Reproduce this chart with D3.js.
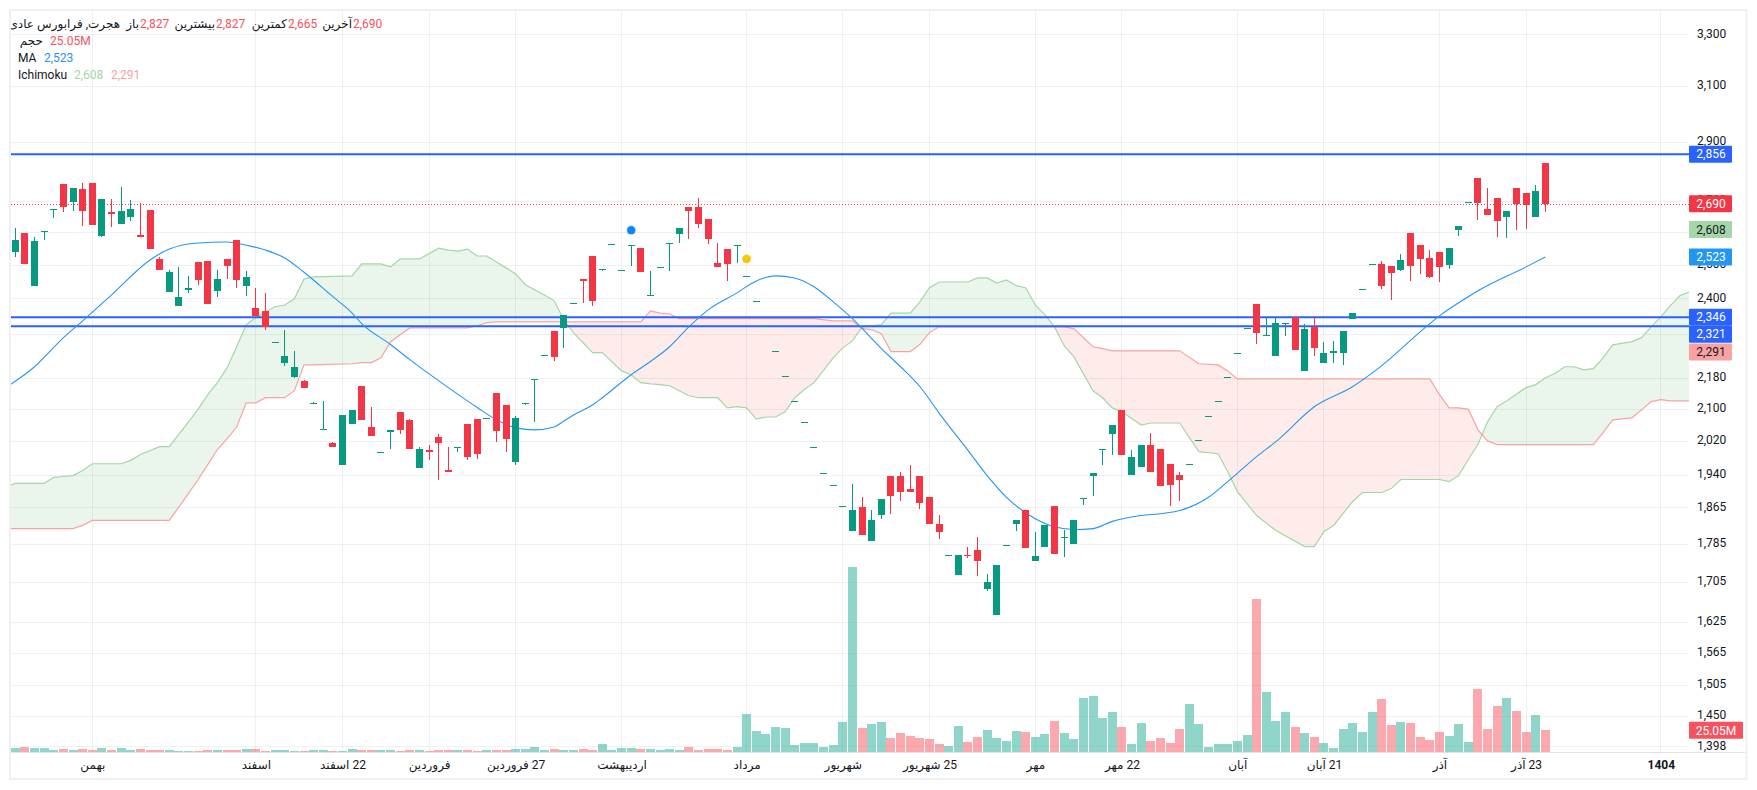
<!DOCTYPE html>
<html lang="fa">
<head>
<meta charset="utf-8">
<title>هجرت</title>
<script src="https://cdn.jsdelivr.net/npm/d3@7/dist/d3.min.js"></script>
<style>
html,body{margin:0;padding:0;background:#fff;overflow:hidden}
svg{display:block}
text{font-family:Roboto,"DejaVu Sans",sans-serif;font-size:12px;fill:#131722}
</style>
</head>
<body>
<svg id="c" width="1757" height="790"></svg>
<script>
const opens=[2538,2597,2437,2603,2673,2755,2696,2738,2759,2587,2664,2625,2648,2590,2670,2517,2419,2379,2425,2508,2511,2422,2517,2575,2437,2373,2364,2278,2221,2184,2173,2116,2050,2017,1964,2063,2160,2055,1993,2043,2093,2073,1957,2000,2031,1952,2003,2063,2075,2078,2140,2111,1971,2116,2178,2242,2308,2316,2386,2457,2526,2486,2562,2483,2559,2550,2410,2492,2565,2594,2680,2680,2641,2505,2547,2559,2465,2392,2322,2252,2186,2121,2067,2006,1944,1917,1868,1812,1867,1790,1849,1936,1938,1906,1938,1888,1829,1762,1720,1762,1771,1690,1639,1783,1829,1860,1748,1779,1869,1798,1785,1887,1938,2002,2038,2098,1940,1959,2010,2002,1966,1940,1966,2023,2082,2121,2183,2247,2316,2384,2296,2240,2330,2347,2199,2319,2221,2248,2248,2342,2427,2501,2502,2496,2484,2597,2559,2520,2538,2499,2606,2695,2776,2673,2709,2648,2742,2725,2648,2827];
const highs=[2612,2597,2584,2603,2673,2755,2742,2759,2759,2706,2706,2745,2703,2693,2670,2523,2484,2493,2466,2508,2511,2484,2517,2575,2481,2431,2416,2278,2311,2253,2176,2119,2121,2019,2085,2098,2160,2106,1993,2048,2093,2075,2005,2012,2038,2005,2005,2063,2075,2078,2140,2111,2083,2116,2178,2242,2308,2353,2386,2457,2526,2486,2562,2483,2559,2550,2481,2492,2565,2612,2680,2709,2641,2566,2547,2559,2465,2392,2322,2252,2186,2121,2067,2006,1944,1917,1868,1918,1888,1860,1885,1936,1947,1964,1938,1888,1849,1762,1762,1779,1800,1722,1739,1783,1836,1860,1810,1825,1869,1816,1836,1887,1945,2002,2060,2098,1998,2010,2041,2002,1966,1947,1966,2023,2082,2121,2183,2247,2316,2384,2347,2347,2330,2347,2328,2350,2278,2280,2308,2358,2427,2501,2511,2496,2532,2597,2559,2544,2538,2550,2619,2695,2776,2742,2709,2667,2742,2725,2752,2827];
const lows=[2523,2502,2437,2575,2644,2664,2667,2619,2622,2584,2616,2625,2635,2584,2547,2484,2419,2379,2416,2440,2384,2405,2457,2431,2408,2350,2311,2278,2213,2181,2153,2116,2050,2007,1964,2063,2073,2034,1993,2002,2038,2002,1955,1976,1927,1947,1993,1974,1978,2078,2019,1993,1962,2111,2068,2242,2226,2261,2386,2387,2379,2481,2562,2483,2496,2478,2410,2492,2481,2566,2578,2612,2563,2493,2451,2505,2465,2392,2322,2252,2186,2121,2067,2006,1944,1917,1868,1812,1803,1790,1840,1851,1879,1901,1862,1829,1796,1762,1720,1754,1718,1686,1639,1783,1812,1777,1748,1779,1764,1756,1785,1871,1890,1964,1986,1986,1940,1959,1947,1915,1869,1879,1966,2023,2082,2121,2183,2247,2316,2272,2296,2240,2294,2256,2199,2240,2221,2221,2215,2342,2427,2501,2428,2396,2481,2451,2472,2460,2448,2487,2587,2695,2638,2654,2584,2581,2606,2609,2648,2665];
const closes=[2575,2502,2572,2603,2673,2680,2742,2667,2622,2706,2657,2667,2673,2584,2547,2484,2478,2405,2431,2454,2384,2457,2496,2454,2463,2350,2319,2278,2240,2210,2153,2116,2050,2007,2085,2098,2073,2034,1993,2048,2048,2002,2002,1993,2017,1947,2005,1983,1990,2078,2046,2026,2078,2116,2178,2242,2237,2353,2386,2451,2393,2486,2562,2483,2559,2478,2410,2492,2565,2612,2667,2625,2578,2493,2502,2559,2465,2392,2322,2252,2186,2121,2067,2006,1944,1917,1868,1860,1803,1838,1885,1890,1899,1901,1876,1829,1810,1762,1762,1758,1748,1704,1739,1783,1836,1777,1758,1825,1764,1800,1836,1887,1945,2002,2060,1986,1981,2010,1947,1915,1917,1929,1966,2023,2082,2121,2183,2247,2316,2303,2296,2331,2330,2256,2314,2261,2248,2253,2308,2358,2427,2501,2437,2475,2514,2496,2517,2463,2493,2550,2619,2695,2693,2654,2635,2667,2690,2686,2732,2690];
const volumes=[4.9,6.1,4.9,4.9,2.7,3.8,2.7,3.8,2.7,4.9,2.7,4.9,2.7,3.8,2.7,2.7,2.7,1.5,1.5,1.5,2.7,2.7,2.7,2.7,3.8,3.8,1.5,2.7,2.7,1.5,1.5,2.7,2.7,1.5,1.5,3.8,2.7,2.7,2.7,2.7,1.5,2.7,2.7,1.5,2.7,2.7,2.7,2.7,1.5,2.7,2.7,2.7,3.8,3.8,6.1,2.7,3.8,2.7,2.7,3.8,2.7,9.1,2.3,4.6,4.6,3.4,3.4,2.3,3.4,2.3,5.7,2.3,3.4,3.4,2.3,5.7,43.3,23.9,20.5,28.5,27.4,8,10.3,10.3,5.7,8,34.2,210.9,27.4,31.9,34.2,16,21.7,18.2,16,14.8,9.1,6.8,29.6,11.4,17.1,25.1,16,12.5,23.9,22.8,17.1,20.5,35.3,21.7,14.8,61.6,63.8,38.8,45.6,28.5,9.1,33.1,12.5,16,10.3,26.2,54.7,31.9,5.7,9.1,9.1,12.5,19.4,174.4,68.4,35.3,45.6,28.5,21.7,17.1,10.3,4.6,26.2,33.1,22.8,45.6,60.4,30.8,34.2,33.1,17.1,13.7,22.8,18.2,31.9,11.4,71.8,26.2,52.4,61.6,46.7,22.8,42.2,25.05];

const maIdx=[-1,2,5,7,10,14,16,19,22,24,26,28,30,33,35,36,39,41,43,45,48,50,52,54,56,57,58,60,61,64,66,68,70,72,75,77,79,81,83,85,87,90,92,94,96,99,101,103,105,106,108,110,112,114,117,119,121,124,126,129,131,135,139,142,146,148,151,152,157,159];
const maVals=[2155,2210,2289,2336,2410,2514,2547,2566,2569,2559,2544,2520,2477,2405,2358,2328,2270,2229,2191,2155,2104,2073,2053,2048,2055,2070,2085,2111,2129,2189,2224,2264,2319,2367,2416,2451,2466,2460,2434,2390,2342,2259,2210,2158,2090,1998,1938,1888,1853,1840,1822,1816,1818,1834,1847,1851,1858,1888,1924,1983,2019,2106,2158,2213,2305,2350,2405,2422,2493,2523];

const cloudIdx=[-1,0,3,4,5,6,7,8,11,12,13,15,16,18,19,20,21,22,23,24,25,26,27,28,29,30,31,35,36,37,38,39,40,41,42,44,45,46,47,48,49,50,51,52,53,55,56,57,58,60,61,63,64,65,66,67,68,69,70,71,73,74,75,76,77,78,79,80,81,82,83,85,86,87,88,89,90,91,93,94,95,96,99,100,101,102,103,104,105,106,107,108,109,110,112,113,114,115,117,118,121,123,125,126,127,129,131,134,135,136,137,139,140,142,143,144,147,148,149,150,151,152,153,154,155,157,158,159,160,161,162,163,164,165,166,168,169,170,171,172,173,174];
const spanA=[1911,1920,1920,1934,1936,1938,1950,1966,1966,1974,1988,2007,2007,2068,2100,2137,2168,2207,2264,2325,2345,2361,2376,2381,2399,2457,2463,2466,2502,2502,2502,2493,2517,2517,2517,2550,2544,2541,2547,2526,2526,2508,2490,2472,2440,2410,2393,2339,2303,2248,2248,2199,2189,2168,2165,2163,2160,2147,2134,2129,2129,2103,2106,2103,2075,2080,2080,2093,2129,2150,2168,2234,2261,2280,2319,2322,2325,2358,2358,2390,2431,2448,2448,2460,2460,2445,2454,2437,2431,2381,2353,2319,2267,2237,2147,2129,2103,2093,2060,2065,2065,1995,1990,1947,1901,1847,1814,1779,1779,1812,1825,1879,1899,1899,1908,1929,1929,1929,1924,1938,1976,2012,2068,2106,2121,2155,2163,2181,2192,2210,2210,2202,2205,2234,2269,2278,2289,2319,2347,2379,2408,2419];
const spanB=[1818,1818,1818,1818,1818,1818,1825,1836,1836,1836,1836,1836,1836,1897,1929,1964,2000,2026,2055,2116,2116,2129,2129,2129,2147,2215,2215,2218,2221,2221,2234,2278,2297,2316,2316,2316,2316,2316,2316,2322,2331,2333,2333,2333,2333,2333,2333,2333,2333,2333,2333,2333,2333,2333,2364,2358,2356,2342,2342,2342,2342,2342,2342,2342,2342,2342,2342,2342,2342,2342,2342,2336,2336,2336,2314,2311,2300,2251,2251,2270,2303,2319,2319,2319,2319,2319,2319,2319,2319,2319,2319,2319,2319,2314,2264,2259,2253,2253,2253,2253,2253,2218,2215,2199,2178,2178,2178,2178,2178,2178,2178,2178,2178,2178,2178,2178,2178,2137,2103,2103,2100,2048,2021,2012,2012,2012,2012,2012,2012,2012,2012,2012,2012,2041,2073,2078,2098,2119,2124,2121,2121,2121];

const priceTicks=[3300,3100,2900,2700,2600,2500,2400,2300,2180,2100,2020,1940,1865,1785,1705,1625,1565,1505,1450,1398];
const timeIdx=[8,25,34,43,52,63,76,86,95,106,115,127,136,148,157,171];
const timeLabels=["بهمن","اسفند","22 اسفند","فروردین","27 فروردین","اردیبهشت","مرداد","شهریور","25 شهریور","مهر","22 مهر","آبان","21 آبان","آذر","23 آذر","1404"];
const levels=[2856,2346,2321];
const lastClose=2690;
const markerIdx=[64,76];
const markerPrice=[2606,2517];
const markerColors=["#0a84ff","#f7c600"];

const labelValues=[2856,2690,2608,2523,2346,2321,2291];
const labelShift=[0,0,0,0,0,8,15];
const labelFill=["#2962FF","#F23645","#A5D6A7","#2196F3","#2962FF","#2962FF","#FAA1A4"];
const labelInk=["#fff","#fff","#131722","#fff","#fff","#fff","#131722"];

const GREEN="#089981",RED="#F23645";
const paneL=11,paneR=1689,paneT=11,paneB=752;
const svg=d3.select("#c");
const x=d3.scaleLinear().domain([0,159]).range([15.33,1545.3]);
const y=d3.scaleLog().domain([3300,1398]).range([34.4,746.4]);
const vy=d3.scaleLinear().domain([0,210.9]).range([752,567]);
const up=i=>closes[i]>=opens[i];

svg.append("defs").append("clipPath").attr("id","pane").append("rect")
  .attr("x",paneL).attr("y",paneT).attr("width",paneR-paneL).attr("height",paneB-paneT);

const pane=svg.append("g").attr("clip-path","url(#pane)");
const gridInk="rgba(42,46,57,0.07)";
pane.append("g").selectAll("line").data(priceTicks).join("line")
  .attr("x1",paneL).attr("x2",paneR).attr("y1",d=>Math.round(y(d))+.5).attr("y2",d=>Math.round(y(d))+.5)
  .attr("stroke",gridInk);
pane.append("g").selectAll("line").data(timeIdx).join("line")
  .attr("y1",paneT).attr("y2",paneB).attr("x1",d=>Math.floor(x(d))+.5).attr("x2",d=>Math.floor(x(d))+.5)
  .attr("stroke",gridInk);

// volume
pane.append("g").attr("shape-rendering","crispEdges").selectAll("rect").data(volumes).join("rect")
  .attr("x",(d,i)=>Math.floor(x(i))-4).attr("width",8.6)
  .attr("y",d=>vy(d)).attr("height",d=>752-vy(d))
  .attr("fill",(d,i)=>up(i)?"rgba(34,171,148,0.5)":"rgba(247,82,95,0.5)");

// cloud
const pts=cloudIdx.map((k,i)=>({k,a:spanA[i],b:spanB[i]}));
const band=d3.area().x(d=>x(d.k)).y0(d=>y(d.a)).y1(d=>y(d.b));
const defs=svg.select("defs");
defs.append("clipPath").attr("id","aboveB").append("path")
  .attr("d",d3.area().x(d=>x(d.k)).y0(paneT-50).y1(d=>y(d.b))(pts));
defs.append("clipPath").attr("id","belowB").append("path")
  .attr("d",d3.area().x(d=>x(d.k)).y0(paneB+50).y1(d=>y(d.b))(pts));
pane.append("path").attr("d",band(pts)).attr("fill","rgba(67,160,71,0.11)").attr("clip-path","url(#aboveB)");
pane.append("path").attr("d",band(pts)).attr("fill","rgba(244,67,54,0.10)").attr("clip-path","url(#belowB)");
pane.append("path").attr("d",d3.line().x(d=>x(d.k)).y(d=>y(d.a))(pts)).attr("fill","none").attr("stroke","#A5D6A7").attr("stroke-width",1.2);
pane.append("path").attr("d",d3.line().x(d=>x(d.k)).y(d=>y(d.b))(pts)).attr("fill","none").attr("stroke","#FAA1A4").attr("stroke-width",1.2);

// last price + levels
pane.append("line").attr("x1",paneL).attr("x2",paneR).attr("y1",Math.round(y(lastClose))+.5).attr("y2",Math.round(y(lastClose))+.5)
  .attr("stroke",RED).attr("stroke-dasharray","1 2").attr("shape-rendering","crispEdges");
pane.append("g").selectAll("line").data(levels).join("line")
  .attr("x1",paneL-1).attr("x2",paneR).attr("y1",d=>y(d)).attr("y2",d=>y(d))
  .attr("stroke","#2962FF").attr("stroke-width",2);

// MA
pane.append("path").attr("d",d3.line().curve(d3.curveMonotoneX).x((d,i)=>x(maIdx[i])).y(d=>y(d))(maVals))
  .attr("fill","none").attr("stroke","#2196F3").attr("stroke-width",1.1);

// candles
const cg=pane.append("g").attr("shape-rendering","crispEdges");
const idx=d3.range(opens.length);
cg.selectAll("rect.w").data(idx).join("rect").attr("class","w")
  .attr("x",i=>Math.floor(x(i))).attr("width",1)
  .attr("y",i=>Math.round(y(highs[i]))).attr("height",i=>Math.max(1,Math.round(y(lows[i]))-Math.round(y(highs[i]))))
  .attr("fill",i=>up(i)?GREEN:RED);
cg.selectAll("rect.b").data(idx).join("rect").attr("class","b")
  .attr("x",i=>Math.floor(x(i))-3).attr("width",7)
  .attr("y",i=>Math.round(y(Math.max(opens[i],closes[i]))))
  .attr("height",i=>Math.max(1,Math.round(y(Math.min(opens[i],closes[i])))-Math.round(y(Math.max(opens[i],closes[i])))))
  .attr("fill",i=>up(i)?GREEN:RED);

// markers
pane.append("g").selectAll("circle").data(markerIdx).join("circle")
  .attr("cx",d=>x(d)).attr("cy",(d,i)=>y(markerPrice[i])).attr("r",3.9)
  .attr("fill",(d,i)=>markerColors[i]).attr("stroke",(d,i)=>markerColors[i]).attr("stroke-opacity",.45).attr("stroke-width",1.4);

// axis baseline
svg.append("line").attr("x1",paneL).attr("x2",1746).attr("y1",752.5).attr("y2",752.5).attr("stroke","#E0E3EB");

// price axis
const pa=svg.append("g").attr("transform","translate(1689,0)")
  .call(d3.axisRight(y).tickValues(priceTicks).tickFormat(d3.format(",")).tickSize(0).tickPadding(8));
pa.select(".domain").remove();
pa.selectAll("text").attr("fill","#131722").attr("dy",".22em").style("font-family","Roboto,sans-serif").style("font-size","12px");

// time axis
const ta=svg.append("g").attr("transform","translate(0,752)")
  .call(d3.axisBottom(x).tickValues(timeIdx).tickFormat((d,i)=>timeLabels[i]).tickSize(0).tickPadding(8));
ta.select(".domain").remove();
ta.selectAll("text").attr("fill","#131722").style("direction","rtl").style("unicode-bidi","plaintext")
  .style("font-family",'Roboto,"DejaVu Sans",sans-serif').style("font-size","12px")
  .style("font-weight",(d,i)=>i===timeIdx.length-1?700:400);

// price labels
const lab=svg.append("g");
labelValues.forEach((v,i)=>{
  const cy=y(v)+labelShift[i];
  lab.append("rect").attr("x",1689).attr("y",cy-8.5).attr("width",43).attr("height",17).attr("rx",1).attr("fill",labelFill[i]);
  lab.append("text").attr("x",1711).attr("y",cy).attr("dy",".35em").attr("text-anchor","middle")
    .style("fill",labelInk[i]).text(d3.format(",")(v));
});
const lv=volumes[volumes.length-1];
lab.append("rect").attr("x",1689).attr("y",vy(lv)-8.2).attr("width",54).attr("height",17).attr("rx",1).attr("fill","#F7525F");
lab.append("text").attr("x",1716).attr("y",vy(lv)+.3).attr("dy",".35em").attr("text-anchor","middle").style("fill","#fff").text(lv.toFixed(2)+"M");

// legend
const red="#F7525F";
const legend=[
 ["هجرت, فرابورس عادی",120,24,"#131722","end"],
 ["باز",139,24,"#131722","end"],["2,827",140,24,red,"start"],
 ["بیشترین",215,24,"#131722","end"],["2,827",216,24,red,"start"],
 ["کمترین",287,24,"#131722","end"],["2,665",288,24,red,"start"],
 ["آخرین",352,24,"#131722","end"],["2,690",353,24,red,"start"],
 ["حجم",43,41,"#131722","end"],["25.05M",50,41,red,"start"],
 ["MA",18,58,"#131722","start"],["2,523",44,58,"#2196F3","start"],
 ["Ichimoku",18,75,"#131722","start"],["2,608",74,75,"#A5D6A7","start"],["2,291",111,75,"#FAA1A4","start"]
];
svg.append("g").selectAll("text").data(legend).join("text")
  .attr("x",d=>d[1]).attr("y",d=>d[2]).attr("dy",".35em").attr("text-anchor",d=>d[4])
  .style("fill",d=>d[3]).style("direction",d=>/[\u0600-\u06ff]/.test(d[0])?"rtl":"ltr")
  .text(d=>d[0]);
svg.selectAll("g text").filter(function(){return this.style.direction==="rtl"&&this.getAttribute("text-anchor")==="end";})
  .attr("text-anchor","start");

// frame
svg.append("rect").attr("x",10).attr("y",10).attr("width",1736.5).attr("height",769).attr("fill","none").attr("stroke","#EEF0F4").attr("stroke-width",2);
</script>
</body>
</html>
